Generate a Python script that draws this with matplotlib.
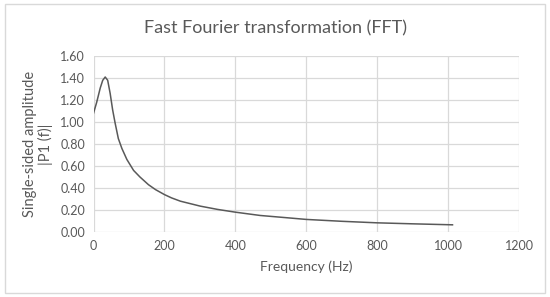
import matplotlib
matplotlib.use('Agg')
import matplotlib.pyplot as plt
from matplotlib.patches import Rectangle

# Values
freq_hz = [0, 9, 19, 26, 33, 40, 47, 54, 61, 70, 80, 94, 113, 131, 155, 175,
           200, 220, 245, 301, 350, 400, 470, 550, 600, 700, 800, 900, 1012]
amplitude = [1.08, 1.18, 1.31, 1.38, 1.41, 1.38, 1.26, 1.11, 0.99, 0.85, 0.76,
             0.66, 0.56, 0.50, 0.43, 0.385, 0.34, 0.31, 0.28, 0.235, 0.205,
             0.18, 0.15, 0.128, 0.114, 0.097, 0.083, 0.074, 0.065]
x_ticks = [0, 200, 400, 600, 800, 1000, 1200]
y_ticks = [0.0, 0.2, 0.4, 0.6, 0.8, 1.0, 1.2, 1.4, 1.6]

plt.rcParams['font.family'] = ['Lato', 'DejaVu Sans']
text_col = '#595959'
grid_col = '#d9d9d9'

fig = plt.figure(figsize=(5.5, 2.97), dpi=100)
fig.patches.append(Rectangle((0.009, 0.013), 0.982, 0.974, transform=fig.transFigure,
                             fill=False, edgecolor=grid_col, linewidth=1.0))

ax = fig.add_axes([0.17, 0.219, 0.774, 0.592])
ax.plot(freq_hz, amplitude, color='#595959', linewidth=1.1)

ax.set_xlim(0, 1200)
ax.set_ylim(0, 1.6)
ax.set_xticks(x_ticks)
ax.set_yticks(y_ticks)
ax.set_yticklabels([f"{v:.2f}" for v in y_ticks])
ax.grid(True, color=grid_col, linewidth=0.9)
ax.set_axisbelow(True)
for s in ax.spines.values():
    s.set_visible(False)
ax.tick_params(length=0, colors=text_col, labelsize=9, pad=6)

ax.set_xlabel('Frequency (Hz)', color=text_col, fontsize=10, labelpad=6)
ax.set_ylabel('Single-sided amplitude\n|P1 (f)|', color=text_col, fontsize=10.5,
              labelpad=5, linespacing=1.1)
fig.text(0.5, 0.905, 'Fast Fourier transformation (FFT)', ha='center', va='center',
         color=text_col, fontsize=13)

plt.savefig('out.png', dpi=100)
